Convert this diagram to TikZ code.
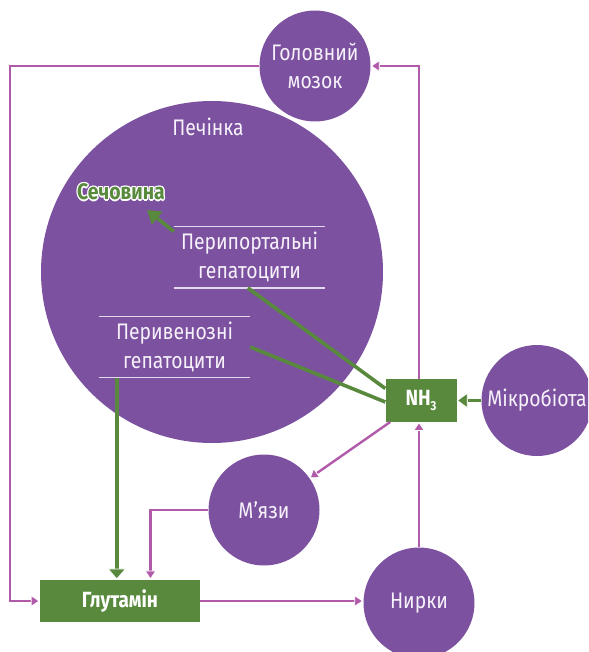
\documentclass[tikz,border=0pt]{standalone}
\usepackage{fontspec}
\setmainfont{Fira Sans}[FakeStretch=0.86]
\usetikzlibrary{arrows.meta,calc}
\definecolor{purp}{HTML}{7C52A0}
\definecolor{grn}{HTML}{58893C}
\definecolor{pnk}{HTML}{B25AAA}
\definecolor{txt}{HTML}{F6F1FA}
\definecolor{uline}{HTML}{E4DAEF}
\begin{document}
\begin{tikzpicture}[x=1pt,y=-1pt,
  organ/.style={circle,fill=purp,minimum size=111pt,inner sep=0pt,text=txt,align=center,
    font=\fontsize{22.5}{28}\selectfont},
  gbox/.style={rectangle,fill=grn,inner sep=0pt,text=white,font=\bfseries\fontsize{22}{24}\selectfont},
  lbl/.style={text=txt,align=center,inner sep=0pt,font=\fontsize{22.5}{29}\selectfont},
  ureatext/.style={inner sep=0pt,font=\bfseries\fontsize{22.5}{24}\selectfont},
  uln/.style={draw=uline,line width=1.2pt},
  pline/.style={draw=pnk,line width=2.4pt},
  ptip/.style={-{Triangle[width=12pt,length=9pt,line width=0.8pt,color=white,fill=pnk]}},
  gline/.style={draw=grn,line width=3.6pt},
  gtipbig/.style={-{Triangle[width=19pt,length=11pt,line width=0.8pt,color=white,fill=grn]}},
  gtipmid/.style={-{Triangle[width=16pt,length=11pt,line width=0.8pt,color=white,fill=grn]}},
  gtipurea/.style={-{Triangle[width=16pt,length=13pt,fill=grn,color=grn]}}
]
\useasboundingbox (0,0) rectangle (588,652);
\clip (0,0) rectangle (588,652);

% connector corner points
\coordinate (lc) at (10,66);
\coordinate (rc) at (419,66);

% organs
\node[organ,minimum size=342pt] (liver) at (212,272) {};
\node[organ] (brain) at (315,66) {Головний\\мозок};
\node[organ] (micro) at (537,400.5) {Мікробіота};
\node[organ] (mjazy) at (264,510) {М’язи};
\node[organ] (nirky) at (419,603) {Нирки};

% boxes
\node[gbox,minimum width=71pt,minimum height=42.5pt] (nh3) at (421,400.5)
  {NH\raisebox{-0.35ex}{\fontsize{13}{13}\selectfont 3}};
\node[gbox,minimum width=160pt,minimum height=42.5pt] (glut) at (120,601) {Глутамін};

% liver contents
\node[lbl] (pechinka) at (208,127) {Печінка};
\node[lbl,minimum width=151pt,minimum height=61pt] (pp) at (249.5,257.2) {Перипортальні\\гепатоцити};
\node[lbl,minimum width=151pt,minimum height=61pt] (pv) at (174.5,347) {Перивенозні\\гепатоцити};
\draw[uln] (pp.north west) -- (pp.north east) (pp.south west) -- (pp.south east);
\draw[uln] (pv.north west) -- (pv.north east) (pv.south west) -- (pv.south east);

% urea with white outline
\foreach \dx/\dy [count=\i] in {1.3/0,-1.3/0,0/1.3,0/-1.3,0.95/0.95,-0.95/0.95,0.95/-0.95,-0.95/-0.95}
  \node[ureatext,text=white] (ureabg\i) at ($(121,192)+(\dx,\dy)$) {Сечовина};
\node[ureatext,text=grn] (urea) at (121,192) {Сечовина};
\coordinate (ureatip) at (147,210);
\coordinate (ppout) at ($(pp.north west)+(0,5)$);
\coordinate (ppdown) at ($(pp.south west)+(74,0)$);
\coordinate (pvout) at ($(pv.south west)+(18,0)$);
\coordinate (glutin2) at ($(glut.north)+(30.5,0)$);

% green connectors
\draw[gline,gtipurea] (ppout) -- (ureatip);
\draw[gline] (ppdown) -- ($(nh3.west)+(0,-12)$);
\draw[gline] (pv.east) -- ($(nh3.west)+(0,1.5)$);
\draw[gline,gtipbig] (pvout) -- (pvout |- glut.north);
\draw[draw=grn,line width=3pt,gtipmid] (micro.west) -- (nh3.east);

% pink connectors
\draw[pline,ptip] (rc |- nh3.north) -- (rc) -- (brain.east);
\draw[pline,ptip] (brain.west) -- (lc) |- (glut.west);
\draw[pline,ptip] (nh3) -- (mjazy);
\draw[pline,ptip] (mjazy.west) -| (glutin2);
\draw[pline,ptip] (glut.east) -- (glut.east -| nirky.west);
\draw[pline,ptip] (nirky.north) -- (nirky.north |- nh3.south);
\end{tikzpicture}
\end{document}
